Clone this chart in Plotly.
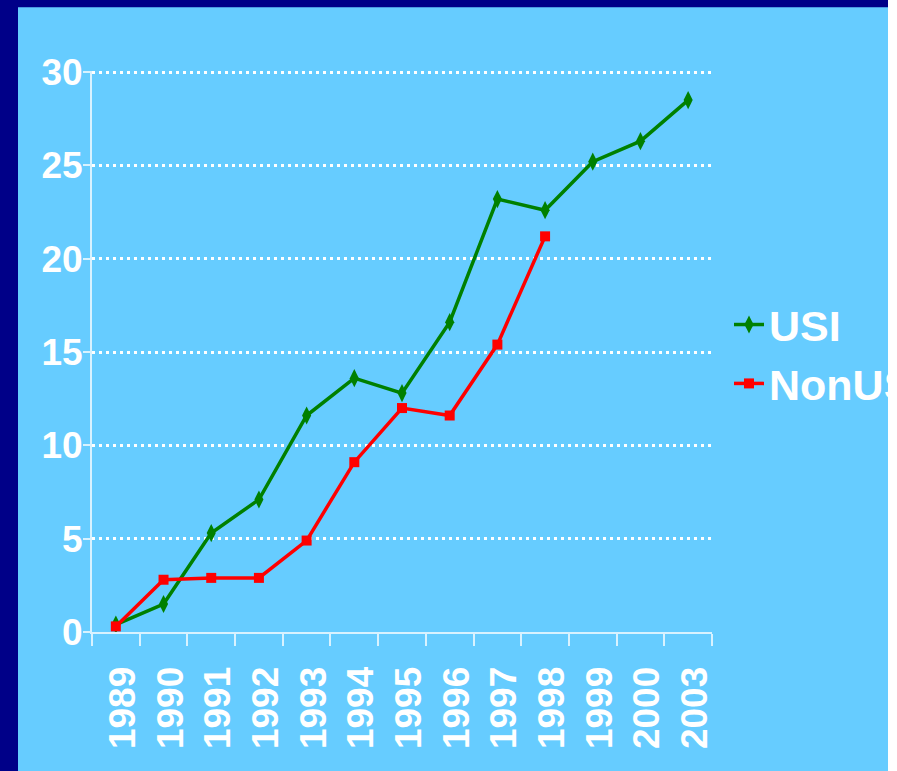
import plotly.graph_objects as go

years = ["1989", "1990", "1991", "1992", "1993", "1994", "1995",
         "1996", "1997", "1998", "1999", "2000", "2003"]
usi = [0.4, 1.5, 5.3, 7.1, 11.6, 13.6, 12.8, 16.6, 23.2, 22.6, 25.2, 26.3, 28.5]
nonus_years = ["1989", "1990", "1991", "1992", "1993", "1994", "1995",
               "1996", "1997", "1998"]
nonus = [0.3, 2.8, 2.9, 2.9, 4.9, 9.1, 12.0, 11.6, 15.4, 21.2]
y_ticks = [0, 5, 10, 15, 20, 25, 30]

W, H = 888, 771
YMAX = 30.06
L, R, B = 92, 712, 632
T = 72 - (YMAX - 30) * (632 - 72) / 30
pw, ph = R - L, B - T

def px(x):
    return (x - L) / pw

def py(y):
    return (B - y) / ph

FONT = "Liberation Sans, Arial, sans-serif"
AXC = "rgba(255,255,255,0.75)"

fig = go.Figure()
fig.add_trace(go.Scatter(
    x=years, y=usi, name="USI", mode="lines+markers",
    line=dict(color="#008000", width=3.5),
    marker=dict(symbol="diamond-tall", size=13, color="#008000"),
))
fig.add_trace(go.Scatter(
    x=nonus_years, y=nonus, name="NonUS", mode="lines+markers",
    line=dict(color="#FF0000", width=3.5),
    marker=dict(symbol="square", size=10, color="#FF0000"),
))

fig.add_shape(type="rect", xref="paper", yref="paper",
              x0=px(18), x1=px(900), y0=py(800), y1=py(7),
              fillcolor="#66CCFF", line=dict(width=0), layer="below")

fig.update_layout(
    width=W, height=H,
    margin=dict(l=L, r=W - R, t=T, b=H - B, autoexpand=False),
    paper_bgcolor="#000088",
    plot_bgcolor="rgba(0,0,0,0)",
    showlegend=True,
    legend=dict(
        x=px(729), y=py(290), xanchor="left", yanchor="top",
        font=dict(family=FONT, size=43, color="white", weight="bold"),
        bgcolor="rgba(0,0,0,0)", borderwidth=0,
    ),
    xaxis=dict(
        type="category", categoryorder="array", categoryarray=years,
        range=[-0.5, len(years) - 0.5],
        showline=True, linecolor=AXC, linewidth=2,
        ticks="outside", ticklen=12, tickwidth=2, tickcolor=AXC,
        tickson="boundaries", showgrid=False,
        tickangle=-90,
        tickfont=dict(family=FONT, size=37, color="white", weight="bold"),
        ticklabelstandoff=18, ticklabelshift=7,
    ),
    yaxis=dict(
        range=[0, YMAX], tickvals=y_ticks,
        showline=True, linecolor=AXC, linewidth=2,
        ticks="outside", ticklen=7, tickwidth=2, tickcolor=AXC,
        showgrid=True, gridcolor="white", gridwidth=2.5, griddash="3px,4px",
        zeroline=False,
        tickfont=dict(family=FONT, size=37, color="white", weight="bold"),
        ticklabelstandoff=-7,
    ),
)

fig.write_html("out.html")
